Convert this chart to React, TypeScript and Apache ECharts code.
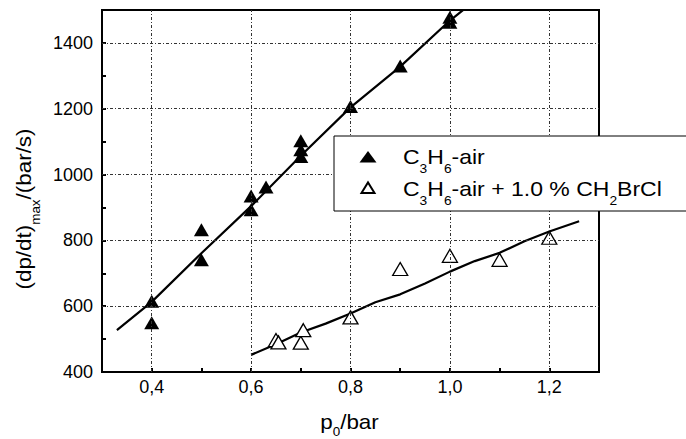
import React, { useEffect, useRef } from 'react';
import * as echarts from 'echarts';

// Measured points: C3H6-air
const pressureAir = [0.4, 0.4, 0.5, 0.5, 0.6, 0.6, 0.63, 0.7, 0.7, 0.7, 0.8, 0.9, 1.0, 1.0];
const rateAir = [615, 550, 832, 741, 935, 893, 962, 1103, 1075, 1055, 1207, 1330, 1478, 1463];
// Measured points: C3H6-air + 1.0 % CH2BrCl
const pressureInh = [0.65, 0.655, 0.7, 0.705, 0.8, 0.9, 1.0, 1.1, 1.2];
const rateInh = [497, 490, 489, 527, 566, 713, 753, 741, 808];
// Fitted curves
const fitAirP = [0.33, 0.4, 0.5, 0.6, 0.7, 0.8, 0.9, 1.0, 1.035];
const fitAirR = [527, 613, 761, 904, 1057, 1204, 1328, 1468, 1510];
const fitInhP = [0.6, 0.65, 0.7, 0.75, 0.8, 0.85, 0.9, 0.95, 1.0, 1.05, 1.1, 1.15, 1.2, 1.26];
const fitInhR = [452, 484, 520, 547, 578, 612, 636, 669, 705, 737, 762, 797, 827, 858];
// Grid lines and tick labels
const xGridValues = [0.4, 0.6, 0.8, 1.0, 1.2];
const yGridValues = [600, 800, 1000, 1200, 1400];
const xTickLabels = ['0,4', '0,6', '0,8', '1,0', '1,2'];
const yTickLabels = ['400', '600', '800', '1000', '1200', '1400'];

const FONT = "'Liberation Sans', Arial, Helvetica, sans-serif";

const zip = (a: number[], b: number[]) => a.map((v, i) => [v, b[i]]);

const rich = {
  a: { fontSize: 20, lineHeight: 20, fontFamily: FONT, color: '#000' },
  s: { fontSize: 12, lineHeight: 12, fontFamily: FONT, color: '#000', padding: [23, 0, 0, 0] },
};
const richTitle = {
  a: { fontSize: 20, lineHeight: 20, fontFamily: FONT, color: '#000' },
  s: { fontSize: 12, lineHeight: 12, fontFamily: FONT, color: '#000', padding: [19, 0, 0, 0] },
};

export default function App() {
  const ref = useRef<HTMLDivElement>(null);
  useEffect(() => {
    if (!ref.current) return;
    const chart = echarts.init(ref.current, undefined, { renderer: 'svg' });
    const option: any = {
      animation: false,
      backgroundColor: '#fff',
      grid: {
        left: 102, top: 10, right: 87, bottom: 67,
        show: true, borderColor: '#000', borderWidth: 2, backgroundColor: 'transparent',
      },
      xAxis: {
        type: 'value', min: 0.3, max: 1.3, interval: 0.1,
        axisLine: { show: true, onZero: false, lineStyle: { color: '#000', width: 2 } },
        axisTick: { show: true, inside: true, length: 4, lineStyle: { color: '#000', width: 2 } },
        splitLine: { show: false },
        axisLabel: {
          margin: 6, color: '#000', fontSize: 18, fontFamily: FONT,
          formatter: (v: number) => {
            const i = xGridValues.findIndex((g) => Math.abs(g - v) < 1e-6);
            return i >= 0 ? xTickLabels[i] : '';
          },
        },
      },
      yAxis: {
        type: 'value', min: 400, max: 1500, interval: 100,
        axisLine: { show: true, onZero: false, lineStyle: { color: '#000', width: 2 } },
        axisTick: { show: true, inside: true, length: 4, lineStyle: { color: '#000', width: 2 } },
        splitLine: { show: false },
        axisLabel: {
          margin: 9, color: '#000', fontSize: 18, fontFamily: FONT,
          formatter: (v: number) => {
            const s = String(Math.round(v));
            return yTickLabels.includes(s) ? s : '';
          },
        },
      },
      series: [
        {
          type: 'line', name: 'grid', data: [], z: 1, silent: true,
          markLine: {
            silent: true, symbol: ['none', 'none'], label: { show: false }, animation: false,
            lineStyle: { color: '#333', width: 1, type: [3, 2, 1, 2] },
            emphasis: { disabled: true },
            data: [
              ...xGridValues.map((v) => ({ xAxis: v })),
              ...yGridValues.map((v) => ({ yAxis: v })),
            ],
          },
        },
        {
          type: 'line', name: 'fitAir', data: zip(fitAirP, fitAirR), z: 2,
          symbol: 'none', showSymbol: false, lineStyle: { color: '#000', width: 2.2 }, silent: true,
        },
        {
          type: 'line', name: 'fitInh', data: zip(fitInhP, fitInhR), z: 2,
          symbol: 'none', showSymbol: false, lineStyle: { color: '#000', width: 2.2 }, silent: true,
        },
        {
          type: 'scatter', name: 'C3H6-air', data: zip(pressureAir, rateAir), z: 3,
          symbol: 'triangle', symbolSize: [15, 13], itemStyle: { color: '#000', opacity: 1 },
        },
        {
          type: 'scatter', name: 'C3H6-air + 1.0 % CH2BrCl', data: zip(pressureInh, rateInh), z: 3,
          symbol: 'triangle', symbolSize: [15, 13],
          itemStyle: { color: '#fff', borderColor: '#000', borderWidth: 1.3, opacity: 1 },
        },
      ],
      graphic: [
        {
          type: 'rect', z: 50, shape: { x: 334, y: 136, width: 400, height: 75 },
          style: { fill: '#fff', stroke: '#000', lineWidth: 1 },
        },
        {
          type: 'polygon', z: 51, shape: { points: [[359.5, 162.5], [376.5, 162.5], [368, 151]] },
          style: { fill: '#000' },
        },
        {
          type: 'polygon', z: 51, shape: { points: [[361.5, 193], [374.5, 193], [368, 182.5]] },
          style: { fill: '#fff', stroke: '#000', lineWidth: 2 },
        },
        {
          type: 'text', z: 51, x: 403, y: 157.4, scaleX: 1.15,
          style: {
            text: '{a|C}{s|3}{a|H}{s|6}{a|-air}', rich,
            align: 'left', verticalAlign: 'middle', textAlign: 'left', textVerticalAlign: 'middle',
          },
        },
        {
          type: 'text', z: 51, x: 403, y: 189.1, scaleX: 1.15,
          style: {
            text: '{a|C}{s|3}{a|H}{s|6}{a|-air + 1.0 % CH}{s|2}{a|BrCl}', rich,
            align: 'left', verticalAlign: 'middle', textAlign: 'left', textVerticalAlign: 'middle',
          },
        },
        {
          type: 'text', z: 51, x: 349.5, y: 422, scaleX: 1.12,
          style: {
            text: '{a|p}{s|0}{a|/bar}', rich: richTitle,
            align: 'center', verticalAlign: 'middle', textAlign: 'center', textVerticalAlign: 'middle',
          },
        },
        {
          type: 'text', z: 51, x: 24, y: 209, scaleX: 1.12, rotation: Math.PI / 2,
          style: {
            text: '{a|(dp/dt)}{s|max}{a|/(bar/s)}', rich,
            align: 'center', verticalAlign: 'middle', textAlign: 'center', textVerticalAlign: 'middle',
          },
        },
      ],
    };
    chart.setOption(option);
    return () => chart.dispose();
  }, []);
  return (
    <div
      ref={ref}
      style={{ position: 'fixed', left: 0, top: 0, width: 686, height: 439, background: '#fff' }}
    />
  );
}
